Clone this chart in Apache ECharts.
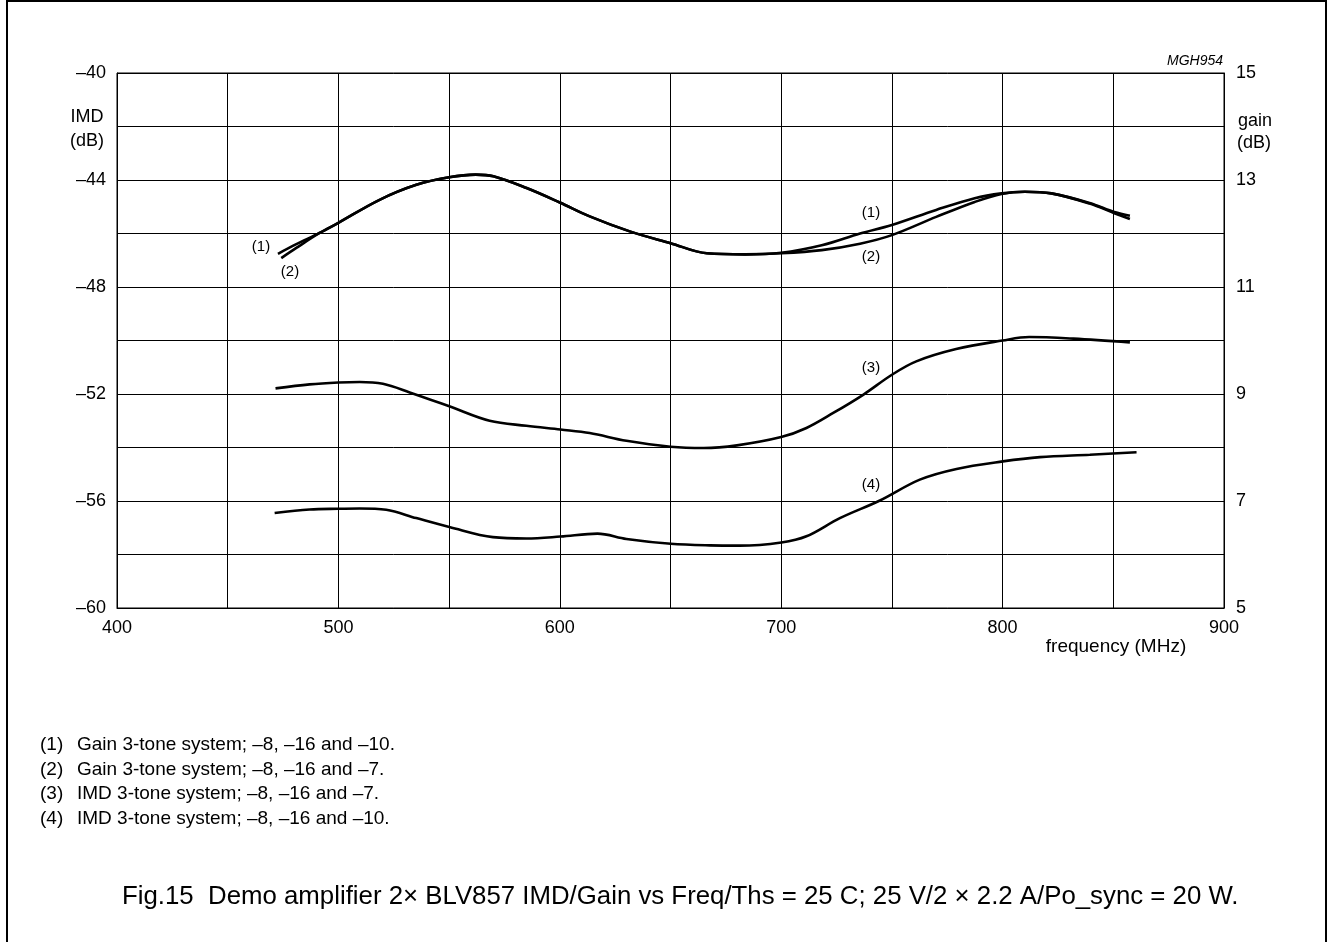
<!doctype html>
<html>
<head>
<meta charset="utf-8">
<script src="https://cdn.jsdelivr.net/npm/echarts@6/dist/echarts.min.js"></script>
<style>
  html, body { margin: 0; padding: 0; background: #fff; }
  #fig { width: 1329px; height: 942px; }
</style>
</head>
<body>
<div id="fig"></div>
<script>
// gain curves (right axis, dB)
var gain1Freq = [472.7, 481, 491.5, 500, 518.6, 535.2, 550, 562, 570, 585, 600, 613.5, 631.6, 650, 666.4, 683.7, 700, 718.3, 735.6, 750, 770, 787.4, 799.5, 810, 822, 839.3, 850.5, 857.5];
var gain1 = [11.62, 11.80, 12.01, 12.20, 12.63, 12.91, 13.05, 13.10, 13.07, 12.85, 12.58, 12.32, 12.04, 11.82, 11.63, 11.61, 11.64, 11.78, 12.00, 12.16, 12.44, 12.66, 12.75, 12.78, 12.75, 12.56, 12.38, 12.27];
var gain2Freq = [474.2, 481, 491.5, 500, 518.6, 535.2, 550, 562, 570, 585, 600, 613.5, 631.6, 650, 666.4, 683.7, 700, 718.3, 735.6, 750, 770, 787.4, 799.5, 810, 822, 839.3, 850.5, 857.5];
var gain2 = [11.54, 11.73, 12.01, 12.20, 12.63, 12.91, 13.05, 13.10, 13.07, 12.85, 12.58, 12.32, 12.04, 11.82, 11.63, 11.61, 11.63, 11.69, 11.81, 11.97, 12.31, 12.59, 12.74, 12.78, 12.75, 12.57, 12.40, 12.33];
// IMD curves (left axis, dB)
var imd3Freq = [471.6, 487, 500, 509.6, 520.1, 532.2, 550.1, 568.3, 584.9, 600.3, 613.5, 630.1, 650, 665, 680, 700, 711.4, 723.5, 737, 750, 761, 779, 800, 812, 832, 857.5];
var imd3 = [-51.79, -51.64, -51.57, -51.55, -51.62, -51.94, -52.46, -53.0, -53.19, -53.33, -53.46, -53.75, -53.97, -54.02, -53.92, -53.61, -53.27, -52.71, -52.03, -51.28, -50.78, -50.32, -50.0, -49.87, -49.93, -50.07];
var imd4Freq = [471.2, 487, 500, 509.6, 521.6, 535.2, 550.1, 569.8, 584.9, 600.3, 617, 630.1, 650.1, 667.7, 681.3, 700.1, 711.4, 726.5, 744.6, 762.6, 779.2, 800.1, 816.9, 839.4, 860.5];
var imd4 = [-56.45, -56.32, -56.29, -56.28, -56.33, -56.64, -56.97, -57.35, -57.40, -57.33, -57.22, -57.42, -57.6, -57.66, -57.67, -57.55, -57.32, -56.64, -55.98, -55.2, -54.8, -54.52, -54.36, -54.27, -54.18];

var notes = [
  ['(1)', 'Gain 3-tone system; \u20138, \u201316 and \u201310.'],
  ['(2)', 'Gain 3-tone system; \u20138, \u201316 and \u20137.'],
  ['(3)', 'IMD 3-tone system; \u20138, \u201316 and \u20137.'],
  ['(4)', 'IMD 3-tone system; \u20138, \u201316 and \u201310.']
];
var caption = 'Fig.15  Demo amplifier 2\u00d7 BLV857 IMD/Gain vs Freq/Ths = 25 C; 25 V/2 \u00d7 2.2 A/Po_sync = 20 W.';

var FONT = '"Liberation Sans", Arial, sans-serif';

function pairs(xs, ys) {
  var out = [];
  for (var i = 0; i < xs.length; i++) out.push([xs[i], ys[i]]);
  return out;
}

function txt(x, y, s, size, align, extra) {
  var st = {
    text: s, fontSize: size, fontFamily: FONT, fill: '#000',
    textAlign: align || 'left', textVerticalAlign: 'middle',
    align: align || 'left', verticalAlign: 'middle'
  };
  if (extra) for (var k in extra) st[k] = extra[k];
  return { type: 'text', x: x, y: y, silent: true, style: st };
}

var chart = echarts.init(document.getElementById('fig'), null, { renderer: 'canvas' });

var lineStyle = { color: '#000', width: 2.6 };
function curve(name, data, yIdx) {
  return {
    name: name, type: 'line', data: data, yAxisIndex: yIdx,
    smooth: 0.35, showSymbol: false, symbol: 'none',
    lineStyle: lineStyle, animation: false, z: 5
  };
}

var graphics = [
  { type: 'rect', shape: { x: 7, y: 1, width: 1319, height: 960 }, style: { fill: 'none', stroke: '#000', lineWidth: 2 }, silent: true },
  txt(87, 117, 'IMD', 18, 'center'),
  txt(87, 141, '(dB)', 18, 'center'),
  txt(1238, 121, 'gain', 18, 'left'),
  txt(1237, 143, '(dB)', 18, 'left'),
  txt(1223, 61, 'MGH954', 14, 'right', { fontStyle: 'italic' }),
  txt(1116, 647, 'frequency (MHz)', 19, 'center'),
  txt(261, 247, '(1)', 15, 'center'),
  txt(290, 272, '(2)', 15, 'center'),
  txt(871, 213, '(1)', 15, 'center'),
  txt(871, 257, '(2)', 15, 'center'),
  txt(871, 368, '(3)', 15, 'center'),
  txt(871, 485, '(4)', 15, 'center'),
  txt(122, 897, caption, 25.8, 'left')
];
for (var i = 0; i < notes.length; i++) {
  graphics.push(txt(40, 745 + i * 24.5, notes[i][0], 19, 'left'));
  graphics.push(txt(77, 745 + i * 24.5, notes[i][1], 19, 'left'));
}

chart.setOption({
  backgroundColor: '#fff',
  animation: false,
  grid: {
    left: 117, top: 73, right: 105, bottom: 334,
    show: true, borderColor: '#000', borderWidth: 1, containLabel: false
  },
  xAxis: {
    type: 'value', min: 400, max: 900, interval: 50,
    axisLine: { show: true, lineStyle: { color: '#000', width: 1 } },
    axisTick: { show: false },
    splitLine: { show: true, lineStyle: { color: '#000', width: 1 } },
    axisLabel: {
      margin: 11, fontSize: 18, fontFamily: FONT, color: '#000',
      showMinLabel: true, showMaxLabel: true, hideOverlap: false,
      formatter: function (v) { return v % 100 === 0 ? String(v) : ''; }
    }
  },
  yAxis: [{
    type: 'value', min: -60, max: -40, interval: 2, position: 'left',
    axisLine: { show: true, lineStyle: { color: '#000', width: 1 } },
    axisTick: { show: false },
    splitLine: { show: true, lineStyle: { color: '#000', width: 1 } },
    axisLabel: {
      margin: 11, fontSize: 18, fontFamily: FONT, color: '#000',
      showMinLabel: true, showMaxLabel: true, hideOverlap: false,
      formatter: function (v) { return (Math.abs(v) % 4 === 0) ? '\u2013' + Math.abs(v) : ''; }
    }
  }, {
    type: 'value', min: 5, max: 15, interval: 1, position: 'right',
    axisLine: { show: true, lineStyle: { color: '#000', width: 1 } },
    axisTick: { show: false },
    splitLine: { show: false },
    axisLabel: {
      margin: 12, fontSize: 18, fontFamily: FONT, color: '#000',
      showMinLabel: true, showMaxLabel: true, hideOverlap: false,
      formatter: function (v) { return ((v - 5) % 2 === 0) ? String(v) : ''; }
    }
  }],
  series: [
    curve('(1)', pairs(gain1Freq, gain1), 1),
    curve('(2)', pairs(gain2Freq, gain2), 1),
    curve('(3)', pairs(imd3Freq, imd3), 0),
    curve('(4)', pairs(imd4Freq, imd4), 0)
  ],
  graphic: graphics
});
</script>
</body>
</html>
